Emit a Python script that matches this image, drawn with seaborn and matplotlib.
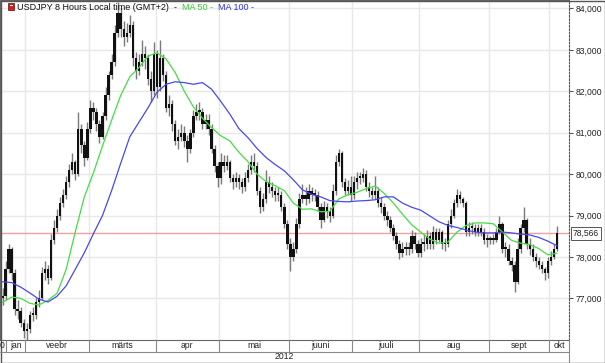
import numpy as np
import pandas as pd
import matplotlib
matplotlib.use("Agg")
import matplotlib.pyplot as plt
import matplotlib.transforms as mtransforms
from matplotlib.lines import Line2D
from matplotlib.patches import Rectangle
from matplotlib.ticker import FuncFormatter, FixedLocator
import seaborn as sns

# ---------------- data ----------------
start_date = "2012-01-20"
end_date = "2012-10-03"
month_names = ["jan", "veebr", "märts", "apr", "mai", "juuni", "juuli", "aug", "sept", "okt"]
year_label = "2012"
title_main = "USDJPY 8 Hours Local time (GMT+2)"
ma50_label = "MA 50 -"
ma100_label = "MA 100 -"
y_ticks = [77, 78, 79, 80, 81, 82, 83, 84]

first_open = 77.0
close = [
    # jan
    77.05, 77.7, 78.2, 77.6, 76.75, 76.7, 76.4, 76.2,
    # veebr
    76.25, 76.6, 76.6, 76.9, 77.0, 77.6, 77.7, 77.5, 78.4, 78.7,
    79.0, 79.3, 79.5, 79.8, 80.1, 80.3, 80.0, 81.1, 80.7, 80.4, 81.1,
    # märts
    81.6, 81.5, 81.2, 80.9, 81.4, 81.9, 82.4, 82.7, 83.4, 83.9,
    83.5, 83.3, 83.4, 83.6, 82.8, 82.5, 82.7, 82.9, 82.8, 82.3, 82.0, 82.9,
    # apr
    82.1, 82.8, 82.4, 81.6, 81.7, 81.2, 80.8, 80.9, 81.0, 80.8,
    80.6, 81.0, 81.4, 81.5, 81.5, 81.2, 81.3, 81.1, 80.6, 80.2, 79.9,
    # mai
    80.3, 80.2, 80.3, 79.9, 79.8, 79.9, 79.8, 79.7, 79.9, 80.1,
    80.3, 80.2, 79.6, 79.2, 79.4, 79.8, 79.7, 79.6, 79.5, 79.5, 79.2, 78.8, 78.3,
    # juuni
    78.0, 78.2, 78.8, 79.4, 79.5, 79.4, 79.6, 79.5, 79.5, 79.2,
    78.9, 79.2, 79.1, 79.0, 79.6, 80.3, 80.5, 79.8, 79.6, 79.7, 79.5,
    # juuli
    79.8, 79.9, 79.9, 80.0, 79.7, 79.6, 79.5, 79.6, 79.3, 79.2,
    79.0, 78.9, 78.7, 78.5, 78.3, 78.1, 78.2, 78.2, 78.2, 78.5, 78.3, 78.1,
    # aug
    78.3, 78.3, 78.5, 78.3, 78.6, 78.4, 78.6, 78.3, 78.3, 78.8,
    79.0, 79.3, 79.5, 79.4, 79.3, 78.6, 78.7, 78.7, 78.6, 78.7, 78.6, 78.4, 78.4,
    # sept
    78.4, 78.4, 78.6, 78.8, 78.2, 78.2, 77.9, 77.8, 77.4, 78.2,
    78.7, 78.9, 78.3, 78.2, 78.0, 77.9, 77.8, 77.7, 77.6, 77.9,
    # okt
    78.0, 78.2, 78.566,
]
high = [
    77.25, 77.9, 78.3, 78.25, 77.7, 76.95, 76.8, 76.5,
    76.4, 76.7, 76.8, 77.0, 77.2, 77.75, 77.9, 77.8, 78.55, 78.9,
    79.15, 79.45, 79.65, 79.95, 80.25, 80.5, 80.35, 81.5, 81.2, 80.8, 81.25,
    81.8, 81.75, 81.6, 81.3, 81.5, 82.1, 82.5, 82.9, 83.6, 84.15,
    84.0, 83.7, 83.65, 83.85, 83.7, 82.95, 82.9, 83.25, 83.1, 82.9, 82.5, 83.2,
    83.0, 83.25, 82.9, 82.5, 81.9, 81.8, 81.3, 81.1, 81.2, 81.15,
    80.95, 81.1, 81.55, 81.7, 81.75, 81.6, 81.45, 81.45, 81.2, 80.7, 80.3,
    80.5, 80.45, 80.45, 80.35, 80.0, 80.05, 80.0, 79.9, 80.05, 80.25,
    80.45, 80.5, 80.3, 79.7, 79.55, 80.1, 79.95, 79.8, 79.7, 79.7, 79.6, 79.3, 78.9,
    78.45, 78.35, 78.95, 79.55, 79.75, 79.7, 79.75, 79.7, 79.65, 79.6,
    79.3, 79.35, 79.3, 79.2, 79.75, 80.45, 80.6, 80.55, 79.9, 79.85, 79.95,
    79.95, 80.05, 80.05, 80.15, 80.1, 79.8, 79.7, 79.95, 79.7, 79.45,
    79.3, 79.1, 79.0, 78.8, 78.6, 78.4, 78.35, 78.35, 78.35, 78.65, 78.6, 78.4,
    78.45, 78.55, 78.65, 78.6, 78.75, 78.7, 78.7, 78.65, 78.45, 78.9,
    79.15, 79.4, 79.65, 79.6, 79.45, 79.35, 78.85, 78.85, 78.8, 78.8, 78.8, 78.7, 78.55,
    78.5, 78.55, 78.7, 79.0, 78.85, 78.35, 78.3, 78.0, 77.9, 78.45,
    78.8, 79.2, 78.95, 78.45, 78.3, 78.1, 78.0, 77.9, 77.75, 78.0,
    78.15, 78.3, 78.75,
]
low = [
    76.85, 76.95, 77.6, 77.45, 76.6, 76.5, 76.3, 76.05,
    76.0, 76.15, 76.45, 76.5, 76.8, 76.95, 77.45, 77.35, 77.45, 78.3,
    78.6, 78.9, 79.2, 79.4, 79.7, 80.0, 79.85, 79.95, 80.5, 80.2, 80.35,
    81.0, 81.3, 81.05, 80.75, 80.85, 81.3, 81.8, 82.3, 82.6, 83.3,
    83.3, 83.1, 83.2, 83.3, 82.6, 82.3, 82.4, 82.6, 82.55, 82.15, 81.75, 81.9,
    81.85, 82.0, 82.25, 81.5, 81.4, 81.05, 80.7, 80.6, 80.8, 80.65,
    80.3, 80.5, 80.9, 81.3, 81.3, 81.1, 81.1, 80.95, 80.5, 80.05, 79.7,
    79.75, 80.05, 80.1, 79.8, 79.65, 79.7, 79.65, 79.55, 79.6, 79.8,
    80.0, 80.05, 79.5, 79.05, 79.1, 79.3, 79.55, 79.45, 79.35, 79.35, 79.1, 78.7, 78.2,
    77.65, 77.9, 78.1, 78.7, 79.3, 79.25, 79.3, 79.35, 79.35, 79.1,
    78.7, 78.85, 78.95, 78.85, 78.95, 79.5, 80.2, 79.7, 79.5, 79.5, 79.35,
    79.4, 79.65, 79.75, 79.8, 79.6, 79.45, 79.4, 79.4, 79.2, 79.05,
    78.9, 78.75, 78.6, 78.4, 78.2, 77.95, 78.0, 78.05, 78.05, 78.1, 78.2, 78.0,
    78.0, 78.15, 78.2, 78.2, 78.2, 78.3, 78.35, 78.2, 78.15, 78.25,
    78.7, 78.95, 79.2, 79.3, 79.2, 78.5, 78.5, 78.55, 78.5, 78.5, 78.5, 78.3, 78.25,
    78.3, 78.3, 78.35, 78.55, 78.1, 78.0, 77.8, 77.65, 77.15, 77.35,
    78.1, 78.6, 78.2, 78.05, 77.9, 77.75, 77.7, 77.6, 77.45, 77.5,
    77.8, 77.95, 78.15,
]
# moving averages, sampled every 3rd trading day
ma_step = 3
ma50 = [
    76.90, 77.03, 77.0, 76.88, 76.84, 76.95, 77.12, 77.7, 78.6, 79.45,
    80.03, 80.68, 81.3, 81.9, 82.35, 82.57, 82.85, 82.93, 82.78, 82.45,
    82.0, 81.62, 81.35, 81.12, 80.93, 80.8, 80.53, 80.3, 80.0, 79.82,
    79.72, 79.6, 79.3, 79.15, 79.16, 79.09, 79.1, 79.4, 79.5, 79.56,
    79.65, 79.71, 79.53, 79.3, 79.03, 78.78, 78.6, 78.43, 78.33, 78.36,
    78.6, 78.76, 78.82, 78.82, 78.8, 78.6, 78.4, 78.33, 78.3, 78.2,
    78.05, 78.09,
]
ma100 = [
    77.40, 77.38, 77.27, 77.13, 76.98, 76.91, 77.05, 77.3, 77.7, 78.1,
    78.56, 79.0, 79.6, 80.26, 80.9, 81.25, 81.6, 81.98, 82.17, 82.23,
    82.21, 82.17, 82.21, 82.05, 81.76, 81.45, 81.1, 80.88, 80.62, 80.4,
    80.23, 80.08, 79.86, 79.62, 79.51, 79.45, 79.36, 79.34, 79.33, 79.35,
    79.36, 79.38, 79.45, 79.45, 79.3, 79.2, 79.13, 78.99, 78.85, 78.76,
    78.71, 78.65, 78.6, 78.58, 78.58, 78.6, 78.58, 78.55, 78.53, 78.47,
    78.38, 78.27,
]

# ---------------- prepare ----------------
dates = pd.bdate_range(start_date, end_date)
n = len(dates)
assert n == len(close) == len(high) == len(low), (n, len(close), len(high), len(low))
assert len(ma50) == len(ma100)
df = pd.DataFrame({"date": dates, "close": close, "high": high, "low": low})
df["open"] = df["close"].shift(1).fillna(first_open)
df["idx"] = np.arange(n)
ma_df = pd.DataFrame({"idx": np.arange(len(ma50)) * ma_step, "ma50": ma50, "ma100": ma100})

# month boundaries (first trading day of each month)
month_start = df.groupby(df["date"].dt.to_period("M"))["idx"].min().values[1:] - 0.5

# ---------------- style ----------------
sns.set_theme(style="white")
plt.rcParams["font.family"] = ["Liberation Sans", "DejaVu Sans"]
FS = 6.2
W, H = 605, 363
fig = plt.figure(figsize=(W / 100, H / 100), dpi=100)
fig.patch.set_facecolor("white")
plot_bottom_px = 340
plot_right_px = 569
ax = fig.add_axes([0, (H - plot_bottom_px) / H, plot_right_px / W, plot_bottom_px / H])
ax.set_facecolor("white")

px_per_day = 3.03
x0 = -0.5 - 1 / px_per_day
x1 = x0 + plot_right_px / px_per_day
ax.set_xlim(x0, x1)
ax.set_ylim(75.993, 84.205)

# grid
ax.xaxis.set_major_locator(FixedLocator(month_start))
ax.yaxis.set_major_locator(FixedLocator(y_ticks))
ax.grid(True, color="#e8e8e8", lw=1.0, zorder=0)
ax.tick_params(axis="x", length=0, labelbottom=False)

# last price line
last_price = df["close"].iloc[-1]
ax.axhline(last_price, color="#f2a0a0", lw=1.0, zorder=1)

# candles
ax.vlines(df["idx"], df["low"], df["high"], color="#7a7a7a", lw=1.0, zorder=2)
body_low = np.minimum(df["open"], df["close"])
body_h = np.maximum(np.abs(df["close"] - df["open"]), 0.05)
ax.bar(df["idx"], body_h, bottom=body_low, width=0.8, color="#111111",
       edgecolor="none", zorder=3)

# moving averages
sns.lineplot(data=ma_df, x="idx", y="ma50", color="#44dd44", lw=0.9, ax=ax, zorder=4)
sns.lineplot(data=ma_df, x="idx", y="ma100", color="#4848f0", lw=0.9, ax=ax, zorder=4)
ax.set_xlabel("")
ax.set_ylabel("")

# right axis labels
ax.yaxis.tick_right()
ax.yaxis.set_major_formatter(FuncFormatter(lambda v, p: f"{v:.3f}".replace(".", ",")))
ax.tick_params(axis="y", which="major", direction="out", length=3, width=0.8,
               color="#555555", pad=1.5, labelsize=FS, labelcolor="#222222", right=True, left=False)
for s in ["top", "left", "bottom"]:
    ax.spines[s].set_color("#666666")
    ax.spines[s].set_linewidth(0.8)
ax.spines["right"].set_color("#555555")
ax.spines["right"].set_linestyle((0, (1.5, 1.5)))
ax.spines["right"].set_linewidth(0.8)

# last price box
ytrans = mtransforms.blended_transform_factory(ax.transAxes, ax.transData)
ax.text(1 + 4 / plot_right_px, last_price, f"{last_price:.3f}".replace(".", ","),
        transform=ytrans, ha="left", va="center", fontsize=FS, color="#222222",
        bbox=dict(boxstyle="square,pad=0.25", fc="white", ec="#555555", lw=0.7), zorder=6,
        clip_on=False)

# title
ty = 1 - 7 / H
t1 = fig.text(17 / W, ty, title_main, fontsize=FS + 0.3, color="#111111", va="center", ha="left")
t2 = ax.annotate("  -  ", xy=(1, 0), xycoords=t1, va="bottom", ha="left",
                 fontsize=FS + 0.3, color="#111111", annotation_clip=False)
t3 = ax.annotate(ma50_label, xy=(1, 0), xycoords=t2, va="bottom", ha="left",
                 fontsize=FS + 0.3, color="#33cc33", annotation_clip=False)
t4 = ax.annotate("  " + ma100_label, xy=(1, 0), xycoords=t3, va="bottom", ha="left",
                 fontsize=FS + 0.3, color="#3030ee", annotation_clip=False)
fig.add_artist(Rectangle((8 / W, 1 - 10 / H), 6 / W, 7 / H, transform=fig.transFigure,
                         fc="#cc2222", ec="#772222", lw=0.6))
fig.add_artist(Rectangle((9.5 / W, 1 - 6 / H), 3 / W, 1.5 / H, transform=fig.transFigure,
                         fc="white", ec="none"))

# bottom month / year rows
trans = mtransforms.blended_transform_factory(ax.transData, fig.transFigure)
row_top = (H - plot_bottom_px) / H
row_mid = (H - 352) / H
sep_col = "#8a8a8a"
jan_sep = 1.15
edges = [jan_sep] + list(month_start) + [x1]
for b in edges[:-1]:
    fig.add_artist(Line2D([b, b], [row_top, row_mid], transform=trans, color=sep_col, lw=0.8))
for name, a, b in zip(month_names, edges[:-1], edges[1:]):
    fig.text((a + b) / 2, (row_top + row_mid) / 2, name, transform=trans, ha="center",
             va="center", fontsize=FS, color="#222222")
fig.text(jan_sep - 0.4, (row_top + row_mid) / 2, "0", transform=trans, ha="right",
         va="center", fontsize=FS, color="#222222")
fig.add_artist(Line2D([0, plot_right_px / W], [row_mid, row_mid], transform=fig.transFigure,
                      color=sep_col, lw=0.8))
fig.add_artist(Line2D([plot_right_px / W, plot_right_px / W], [0, row_top],
                      transform=fig.transFigure, color=sep_col, lw=0.8))
fig.text(plot_right_px / 2 / W, row_mid / 2 + 0.002, year_label, ha="center", va="center",
         fontsize=FS, color="#222222")

# outer frame
fig.add_artist(Rectangle((0.5 / W, 0.5 / H), 1 - 1 / W, 1 - 1 / H, transform=fig.transFigure,
                         fc="none", ec="#555555", lw=1.0))

fig.savefig("out.png", dpi=100, facecolor="white")
